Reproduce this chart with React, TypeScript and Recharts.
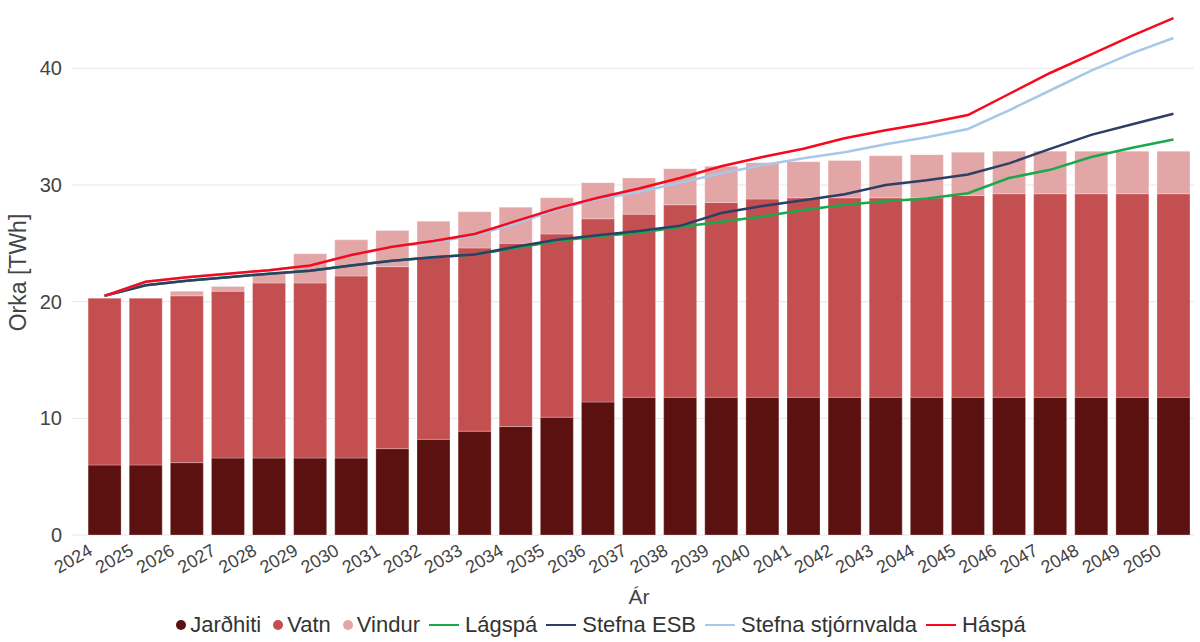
import { ComposedChart, Bar, Line, XAxis, YAxis, CartesianGrid, Legend } from 'recharts';

const years = [
  '2024', '2025', '2026', '2027', '2028', '2029', '2030', '2031', '2032', '2033', '2034', '2035', '2036', '2037',
  '2038', '2039', '2040', '2041', '2042', '2043', '2044', '2045', '2046', '2047', '2048', '2049', '2050',
];

const jardhiti = [6.0, 6.0, 6.2, 6.6, 6.6, 6.6, 6.6, 7.4, 8.2, 8.9, 9.3, 10.1, 11.4, 11.8, 11.8, 11.8, 11.8, 11.8, 11.8, 11.8, 11.8, 11.8, 11.8, 11.8, 11.8, 11.8, 11.8];
const vatn = [14.3, 14.3, 14.3, 14.3, 15.0, 15.0, 15.6, 15.6, 15.6, 15.7, 15.7, 15.7, 15.7, 15.7, 16.5, 16.7, 17.0, 17.1, 17.1, 17.1, 17.1, 17.3, 17.45, 17.45, 17.45, 17.45, 17.45];
const vindur = [0, 0, 0.4, 0.4, 0.8, 2.5, 3.1, 3.1, 3.1, 3.1, 3.1, 3.1, 3.1, 3.1, 3.1, 3.1, 3.1, 3.1, 3.2, 3.6, 3.7, 3.7, 3.65, 3.65, 3.65, 3.65, 3.65];

const lagspa = [20.5, 21.4, 21.8, 22.1, 22.4, 22.65, 23.1, 23.5, 23.8, 24.05, 24.6, 25.2, 25.6, 25.9, 26.4, 26.85, 27.3, 27.85, 28.3, 28.6, 28.85, 29.3, 30.6, 31.3, 32.4, 33.2, 33.9];
const stefnaEsb = [20.5, 21.4, 21.8, 22.1, 22.4, 22.65, 23.1, 23.5, 23.8, 24.05, 24.7, 25.3, 25.7, 26.05, 26.5, 27.6, 28.2, 28.7, 29.2, 30.0, 30.4, 30.9, 31.85, 33.1, 34.3, 35.2, 36.1];
const stefnaStjorn = [20.5, 21.7, 22.1, 22.4, 22.7, 23.1, 24.0, 24.7, 25.1, 25.7, 26.7, 27.9, 28.8, 29.4, 30.2, 31.0, 31.7, 32.3, 32.8, 33.5, 34.1, 34.8, 36.4, 38.1, 39.8, 41.3, 42.6];
const haspa = [20.5, 21.7, 22.1, 22.4, 22.7, 23.1, 24.0, 24.7, 25.2, 25.8, 26.9, 28.0, 28.9, 29.7, 30.6, 31.6, 32.4, 33.1, 34.0, 34.7, 35.3, 36.0, 37.8, 39.6, 41.2, 42.8, 44.3];

const yTicks = [0, 10, 20, 30, 40];
const yMax = 45;

const data = years.map((year, i) => ({
  year,
  jardhiti: jardhiti[i],
  vatn: vatn[i],
  vindur: vindur[i],
  lagspa: lagspa[i],
  stefnaEsb: stefnaEsb[i],
  stefnaStjorn: stefnaStjorn[i],
  haspa: haspa[i],
}));

const FONT = '"Liberation Sans", Arial, sans-serif';

const legendItems = [
  { name: 'Jarðhiti', color: '#5c1111', type: 'dot' },
  { name: 'Vatn', color: '#c44f50', type: 'dot' },
  { name: 'Vindur', color: '#e2a6a6', type: 'dot' },
  { name: 'Lágspá', color: '#1aa84c', type: 'line' },
  { name: 'Stefna ESB', color: '#2c3f66', type: 'line' },
  { name: 'Stefna stjórnvalda', color: '#a8c8e8', type: 'line' },
  { name: 'Háspá', color: '#f7081c', type: 'line' },
];

const renderLegend = () => (
  <div style={{ display: 'flex', justifyContent: 'center', alignItems: 'center', fontFamily: FONT, fontSize: 22, color: '#333', paddingLeft: 8 }}>
    {legendItems.map((item, i) => (
      <div key={item.name} style={{ display: 'flex', alignItems: 'center', marginLeft: i === 0 ? 0 : item.type === 'dot' ? 12 : 9 }}>
        {item.type === 'dot' ? (
          <span style={{ width: 10, height: 10, borderRadius: '50%', background: item.color, display: 'inline-block', marginRight: 4 }} />
        ) : (
          <span style={{ width: 30, height: 2, background: item.color, display: 'inline-block', marginRight: 6 }} />
        )}
        <span>{item.name}</span>
      </div>
    ))}
  </div>
);

const XTick = (props: any) => {
  const { x, payload } = props;
  return (
    <g transform={`translate(${x - 11},${554})`}>
      <text textAnchor="end" transform="rotate(-30)" fontSize={18} fill="#444" fontFamily={FONT}>
        {payload.value}
      </text>
    </g>
  );
};

// grid rows only at the labelled ticks (not at the domain top)
const gridRows = (props: any) => {
  const top = props?.offset?.top ?? 10;
  const h = props?.offset?.height ?? 525;
  return yTicks.map((t) => top + h * (1 - t / yMax));
};

export default function App() {
  return (
    <div style={{ position: 'fixed', left: 0, top: 0, background: '#fff' }}>
      <ComposedChart
        width={1200}
        height={642}
        data={data}
        margin={{ top: 10, right: 6, left: 0, bottom: 0 }}
        barCategoryGap="10%"
      >
        <CartesianGrid vertical={false} stroke="#e6e6e6" horizontalCoordinatesGenerator={gridRows} />
        <XAxis
          dataKey="year"
          height={77}
          tick={<XTick />}
          tickLine={false}
          axisLine={false}
          interval={0}
          label={{ value: 'Ár', position: 'insideBottom', offset: 8, fontSize: 21, fill: '#444', fontFamily: FONT }}
        />
        <YAxis
          width={84}
          domain={[0, yMax]}
          ticks={yTicks}
          axisLine={false}
          tickLine={{ stroke: '#e6e6e6' }}
          tickSize={12}
          tickMargin={10}
          tick={{ fontSize: 20, fill: '#444', fontFamily: FONT }}
          label={{ value: 'Orka [TWh]', angle: -90, position: 'insideLeft', offset: 18, fontSize: 23, fill: '#444', fontFamily: FONT, style: { textAnchor: 'middle' } }}
        />
        <Legend verticalAlign="bottom" height={30} content={renderLegend} />
        <Bar dataKey="jardhiti" name="Jarðhiti" stackId="a" fill="#5c1111" stroke="rgba(255,255,255,0.25)" isAnimationActive={false} />
        <Bar dataKey="vatn" name="Vatn" stackId="a" fill="#c44f50" stroke="rgba(255,255,255,0.25)" isAnimationActive={false} />
        <Bar dataKey="vindur" name="Vindur" stackId="a" fill="#e2a6a6" stroke="rgba(255,255,255,0.25)" isAnimationActive={false} />
        <Line dataKey="lagspa" name="Lágspá" stroke="#1aa84c" strokeWidth={2.5} dot={false} isAnimationActive={false} />
        <Line dataKey="stefnaEsb" name="Stefna ESB" stroke="#2c3f66" strokeWidth={2.5} dot={false} isAnimationActive={false} />
        <Line dataKey="stefnaStjorn" name="Stefna stjórnvalda" stroke="#a8c8e8" strokeWidth={2.5} dot={false} isAnimationActive={false} />
        <Line dataKey="haspa" name="Háspá" stroke="#f7081c" strokeWidth={2.5} dot={false} isAnimationActive={false} />
      </ComposedChart>
    </div>
  );
}
